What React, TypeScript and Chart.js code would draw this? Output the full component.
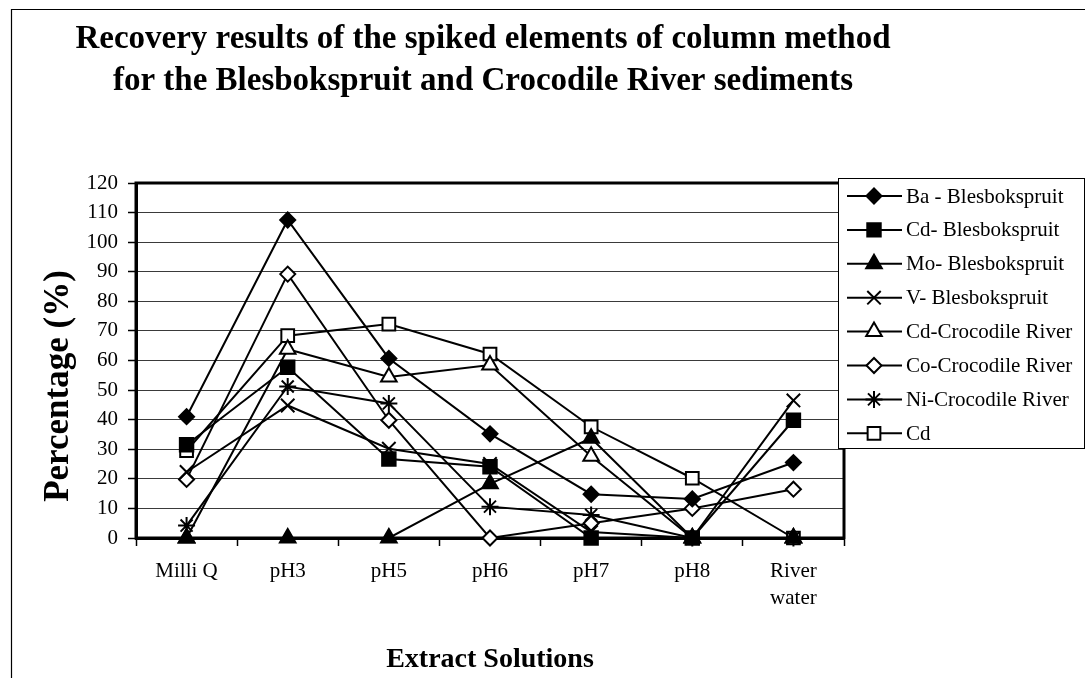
import React, { useEffect, useRef } from 'react';
import { Chart, registerables } from 'chart.js';

Chart.register(...registerables);

// ---------- data ----------
const categories: (string | string[])[] = ['Milli Q', 'pH3', 'pH5', 'pH6', 'pH7', 'pH8', ['River', 'water']];

const seriesNames = [
  'Ba - Blesbokspruit',
  'Cd- Blesbokspruit',
  'Mo- Blesbokspruit',
  'V- Blesbokspruit',
  'Cd-Crocodile River',
  'Co-Crocodile River',
  'Ni-Crocodile River',
  'Cd',
];

const baBles = [41, 107.5, 60.7, 35.2, 14.8, 13.2, 25.5];
const cdBles = [31.5, 57.7, 26.7, 24.1, 0, 0, 39.8];
const moBles = [0, 0, 0, 18.3, 33.7, 0, 0];
const vBles = [22.3, 44.8, 30.2, 25, 2, 0, 46.5];
const cdCroc = [0, 63.8, 54.4, 58.5, 27.6, 0, 0];
const coCroc = [19.8, 89.2, 39.8, 0, 5, 10, 16.5];
const niCroc = [4.2, 51.2, 45.5, 10.6, 7.8, 0, 0];
const cdAll = [29.5, 68.4, 72.3, 62.2, 37.6, 20.2, 0];

const seriesValues = [baBles, cdBles, moBles, vBles, cdCroc, coCroc, niCroc, cdAll];

const yMin = 0;
const yMax = 120;
const yStep = 10;

const titleLines = [
  'Recovery results of the spiked elements of column method',
  'for the Blesbokspruit and Crocodile River sediments',
];
const yTitle = 'Percentage (%)';
const xTitle = 'Extract Solutions';

// ---------- styles ----------
const FONT = '"Liberation Serif", "Times New Roman", serif';

type MarkerStyle = { style: string; radius: number; filled: boolean };
const markers: MarkerStyle[] = [
  { style: 'rectRot', radius: 7.5, filled: true },
  { style: 'rect', radius: 9.5, filled: true },
  { style: 'triangle', radius: 9, filled: true },
  { style: 'crossRot', radius: 9.5, filled: false },
  { style: 'triangle', radius: 9, filled: false },
  { style: 'rectRot', radius: 7.5, filled: false },
  { style: 'star', radius: 8.5, filled: false },
  { style: 'rect', radius: 9, filled: false },
];

function drawMarker(ctx: CanvasRenderingContext2D, m: MarkerStyle, x: number, y: number) {
  const r = m.radius;
  ctx.save();
  ctx.lineWidth = 2;
  ctx.strokeStyle = '#000';
  ctx.fillStyle = m.filled ? '#000' : '#fff';
  ctx.beginPath();
  if (m.style === 'rectRot') {
    ctx.moveTo(x - r, y);
    ctx.lineTo(x, y - r);
    ctx.lineTo(x + r, y);
    ctx.lineTo(x, y + r);
    ctx.closePath();
    ctx.fill();
    ctx.stroke();
  } else if (m.style === 'rect') {
    const s = Math.SQRT1_2 * r;
    ctx.rect(x - s, y - s, 2 * s, 2 * s);
    ctx.fill();
    ctx.stroke();
  } else if (m.style === 'triangle') {
    let a = 0;
    ctx.moveTo(x + Math.sin(a) * r, y - Math.cos(a) * r);
    a += (2 * Math.PI) / 3;
    ctx.lineTo(x + Math.sin(a) * r, y - Math.cos(a) * r);
    a += (2 * Math.PI) / 3;
    ctx.lineTo(x + Math.sin(a) * r, y - Math.cos(a) * r);
    ctx.closePath();
    ctx.fill();
    ctx.stroke();
  } else if (m.style === 'crossRot') {
    const o = Math.SQRT1_2 * r;
    ctx.moveTo(x - o, y - o);
    ctx.lineTo(x + o, y + o);
    ctx.moveTo(x - o, y + o);
    ctx.lineTo(x + o, y - o);
    ctx.stroke();
  } else if (m.style === 'star') {
    const o = Math.SQRT1_2 * r;
    ctx.moveTo(x - o, y - o);
    ctx.lineTo(x + o, y + o);
    ctx.moveTo(x - o, y + o);
    ctx.lineTo(x + o, y - o);
    ctx.moveTo(x, y - r);
    ctx.lineTo(x, y + r);
    ctx.moveTo(x - r, y);
    ctx.lineTo(x + r, y);
    ctx.stroke();
  }
  ctx.restore();
}

const decorPlugin = {
  id: 'decor',
  beforeDraw(chart: any) {
    const ctx: CanvasRenderingContext2D = chart.ctx;
    ctx.save();
    ctx.fillStyle = '#fff';
    ctx.fillRect(0, 0, chart.width, chart.height);
    // outer frame (cropped on right/bottom)
    ctx.strokeStyle = '#000';
    ctx.lineWidth = 1.2;
    ctx.beginPath();
    ctx.moveTo(11.5, chart.height);
    ctx.lineTo(11.5, 9.5);
    ctx.lineTo(chart.width, 9.5);
    ctx.stroke();
    // title
    ctx.fillStyle = '#000';
    ctx.font = `bold 33px ${FONT}`;
    ctx.textAlign = 'center';
    ctx.textBaseline = 'alphabetic';
    ctx.fillText(titleLines[0], 483, 48);
    ctx.fillText(titleLines[1], 483, 90);
    // y title
    ctx.save();
    ctx.translate(68, 386);
    ctx.rotate(-Math.PI / 2);
    ctx.font = `bold 35px ${FONT}`;
    ctx.fillText(yTitle, 0, 0);
    ctx.restore();
    ctx.restore();
  },
  beforeDatasetsDraw(chart: any) {
    const ctx: CanvasRenderingContext2D = chart.ctx;
    const a = chart.chartArea;
    ctx.save();
    ctx.strokeStyle = '#000';
    ctx.lineWidth = 3;
    ctx.strokeRect(a.left, a.top, a.right - a.left, a.bottom - a.top);
    ctx.restore();
  },
  afterDraw(chart: any) {
    const ctx: CanvasRenderingContext2D = chart.ctx;
    ctx.save();
    const lx = 838.5, ly = 178.5, lw = 246, lh = 270;
    ctx.fillStyle = '#fff';
    ctx.fillRect(lx, ly, lw, lh);
    ctx.strokeStyle = '#000';
    ctx.lineWidth = 1;
    ctx.strokeRect(lx, ly, lw, lh);
    ctx.font = `21px ${FONT}`;
    ctx.textAlign = 'left';
    ctx.textBaseline = 'middle';
    seriesNames.forEach((name, i) => {
      const cy = 196 + i * 33.9;
      ctx.strokeStyle = '#000';
      ctx.lineWidth = 2;
      ctx.beginPath();
      ctx.moveTo(847, cy);
      ctx.lineTo(902, cy);
      ctx.stroke();
      drawMarker(ctx, markers[i], 874, cy);
      ctx.fillStyle = '#000';
      ctx.fillText(name, 906, cy + 1);
    });
    ctx.restore();
  },
};

export default function App() {
  const canvasRef = useRef<HTMLCanvasElement | null>(null);

  useEffect(() => {
    const canvas = canvasRef.current;
    if (!canvas) return;
    const datasets = seriesNames.map((name, i) => ({
      label: name,
      data: seriesValues[i],
      borderColor: '#000',
      borderWidth: 2,
      backgroundColor: markers[i].filled ? '#000' : '#fff',
      pointStyle: markers[i].style as any,
      pointRadius: markers[i].radius,
      pointBorderWidth: 2,
      pointBorderColor: '#000',
      pointBackgroundColor: markers[i].filled ? '#000' : '#fff',
      tension: 0,
      fill: false,
      clip: false as any,
    }));

    const chart = new Chart(canvas, {
      type: 'line',
      data: { labels: categories as any, datasets },
      options: {
        responsive: false,
        animation: false,
        events: [],
        layout: { padding: { top: 183, right: 241, bottom: 0, left: 0 } },
        plugins: {
          legend: { display: false },
          title: { display: false },
          tooltip: { enabled: false },
        },
        scales: {
          x: {
            type: 'category',
            offset: true,
            grid: {
              offset: true,
              drawOnChartArea: false,
              drawTicks: true,
              tickLength: 8,
              tickColor: '#000',
              tickWidth: 1.5,
            },
            border: { display: true, color: '#000', width: 3 },
            ticks: {
              color: '#000',
              padding: 12,
              maxRotation: 0,
              autoSkip: false,
              font: { family: FONT, size: 21, lineHeight: 1.3 },
            },
            title: {
              display: true,
              text: xTitle,
              color: '#000',
              font: { family: FONT, size: 28, weight: 'bold' },
              padding: { top: 0, bottom: 1 },
            },
            afterFit: (s: any) => {
              s.height = 140;
            },
          },
          y: {
            min: yMin,
            max: yMax,
            grid: {
              color: '#3a3a3a',
              lineWidth: 1,
              drawTicks: true,
              tickLength: 8,
              tickColor: '#000',
              tickWidth: 1.5,
            },
            border: { display: true, color: '#000', width: 3 },
            ticks: {
              stepSize: yStep,
              color: '#000',
              padding: 10,
              font: { family: FONT, size: 21 },
            },
            afterFit: (s: any) => {
              s.width = 136;
            },
          },
        },
      },
      plugins: [decorPlugin],
    });
    return () => chart.destroy();
  }, []);

  return (
    <div style={{ position: 'fixed', left: 0, top: 0, width: 1085, height: 678, background: '#fff' }}>
      <canvas ref={canvasRef} width={1085} height={678} style={{ display: 'block', width: 1085, height: 678 }} />
    </div>
  );
}
